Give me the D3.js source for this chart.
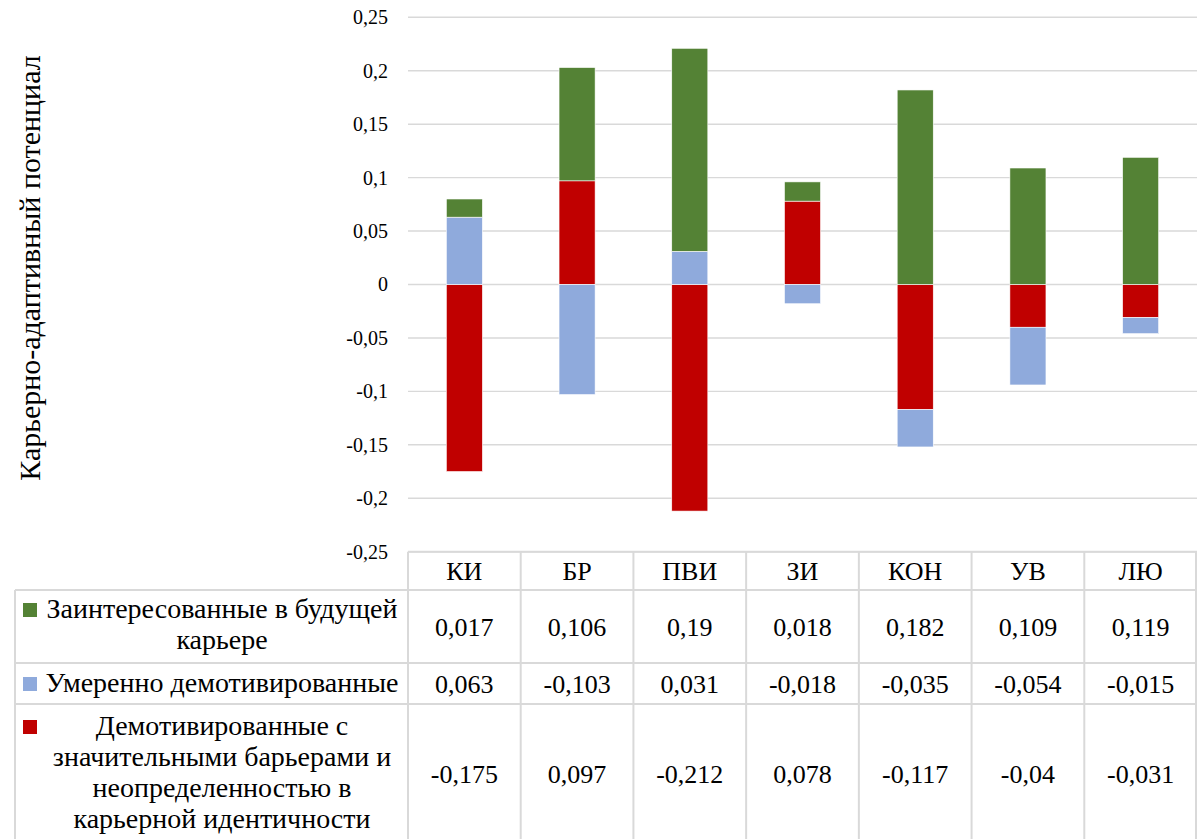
<!DOCTYPE html>
<html>
<head>
<meta charset="utf-8">
<script src="https://cdn.jsdelivr.net/npm/d3@7"></script>
<style>
  body { margin: 0; background: #fff; }
  svg text { font-family: "Liberation Serif", "Times New Roman", serif; }
</style>
</head>
<body>
<div></div>
<script>
const width = 1198, height = 839
const svg = d3.select("div")
    .append("svg")
    .attr("xmlns", "http://www.w3.org/2000/svg")
    .attr("width", width)
    .attr("height", height)

// data
const categories = ["КИ", "БР", "ПВИ", "ЗИ", "КОН", "УВ", "ЛЮ"]
const interested = [0.017, 0.106, 0.19, 0.018, 0.182, 0.109, 0.119]
const moderate = [0.063, -0.103, 0.031, -0.018, -0.035, -0.054, -0.015]
const demotivated = [-0.175, 0.097, -0.212, 0.078, -0.117, -0.04, -0.031]
const seriesNames = [
	["Заинтересованные в будущей", "карьере"],
	["Умеренно демотивированные"],
	["Демотивированные с", "значительными барьерами и", "неопределенностью в", "карьерной идентичности"]
]
const yTitle = "Карьерно-адаптивный потенциал"

// settings
const colors = { interested: "#548235", moderate: "#8faadc", demotivated: "#c00000" }
const gridColor = "#d9d9d9"
const plotLeft = 408, plotRight = 1197, plotTop = 17.3, plotBottom = 551.7

const locale = d3.formatLocale({ decimal: ",", thousands: " ", grouping: [3], currency: ["", ""], minus: "-" })
const tickFmt = locale.format(".2~f")
const valFmt = locale.format("~g")

// scales
const y = d3.scaleLinear().domain([-0.25, 0.25]).range([plotBottom, plotTop])
const xCol = d3.scaleBand().domain(categories).range([plotLeft, plotRight])
const xBar = d3.scaleBand().domain(categories).range([plotLeft, plotRight])
	.paddingInner(0.68).paddingOuter(0.34)

// 1. gridlines + tick labels
const ticks = d3.ticks(-0.25, 0.25, 10)
svg.selectAll().data(ticks).enter().append("line")
	.attr("x1", plotLeft).attr("x2", plotRight)
	.attr("y1", d => y(d)).attr("y2", d => y(d))
	.attr("stroke", gridColor)
	.attr("stroke-width", 1.4)

const yAxis = svg.append("g")
	.attr("transform", `translate(${plotLeft},0)`)
	.call(d3.axisLeft(y).tickValues(ticks).tickFormat(tickFmt).tickSize(0).tickPadding(20))
yAxis.attr("font-family", null).attr("font-size", null)
yAxis.select(".domain").remove()
yAxis.selectAll("text")
	.style("font-size", "20px")
	.attr("fill", "#000")

// y title
svg.append("text")
	.attr("transform", "translate(40,268) rotate(-90)")
	.attr("text-anchor", "middle")
	.style("font-size", "30px")
	.attr("fill", "#000")
	.text(yTitle)

// 2. stacked bars (stack order: demotivated, moderate, interested)
const rows = categories.map((c, i) => ({
	cat: c,
	demotivated: demotivated[i],
	moderate: moderate[i],
	interested: interested[i]
}))
const keys = ["demotivated", "moderate", "interested"]
const stacked = d3.stack().keys(keys).offset(d3.stackOffsetDiverging)(rows)

svg.selectAll().data(stacked).enter().append("g")
	.attr("fill", d => colors[d.key])
	.selectAll("rect")
	.data(d => d)
	.enter()
	.append("rect")
	.attr("x", d => xBar(d.data.cat))
	.attr("width", xBar.bandwidth())
	.attr("y", d => y(Math.max(d[0], d[1])))
	.attr("height", d => Math.abs(y(d[0]) - y(d[1])))
	.attr("stroke", "#fff")
	.attr("stroke-width", 0.6)

// 3. data table
const tableLeft = 15
const rowEdges = [plotBottom, 590, 663, 704, 842]
const tableSeries = [
	{ key: "interested", values: interested, names: seriesNames[0] },
	{ key: "moderate", values: moderate, names: seriesNames[1] },
	{ key: "demotivated", values: demotivated, names: seriesNames[2] }
]
const borderColor = "#d9d9d9"
const tb = svg.append("g")
	.attr("stroke", borderColor)
	.attr("stroke-width", 2)
// horizontal lines
tb.append("line").attr("x1", plotLeft).attr("x2", plotRight).attr("y1", rowEdges[0]).attr("y2", rowEdges[0])
tb.selectAll().data(rowEdges.slice(1, 4)).enter().append("line")
	.attr("x1", tableLeft).attr("x2", plotRight)
	.attr("y1", d => d).attr("y2", d => d)
// vertical lines
const colEdges = categories.map(c => xCol(c)).concat([plotRight - 1])
tb.selectAll().data(colEdges).enter().append("line")
	.attr("x1", d => d).attr("x2", d => d)
	.attr("y1", rowEdges[0]).attr("y2", height)
tb.append("line").attr("x1", tableLeft).attr("x2", tableLeft).attr("y1", rowEdges[1]).attr("y2", height)

// header labels
svg.selectAll().data(categories).enter().append("text")
	.attr("x", d => xCol(d) + xCol.bandwidth() / 2)
	.attr("y", 580)
	.attr("text-anchor", "middle")
	.style("font-size", "26px")
	.attr("fill", "#000")
	.text(d => d)

// values
tableSeries.forEach((s, r) => {
	const mid = (rowEdges[r + 1] + rowEdges[r + 2]) / 2
	svg.selectAll().data(s.values).enter().append("text")
		.attr("x", (d, i) => xCol(categories[i]) + xCol.bandwidth() / 2)
		.attr("y", mid + 9.5)
		.attr("text-anchor", "middle")
		.style("font-size", "26px")
		.attr("fill", "#000")
		.text(d => valFmt(d))

	// legend key + name
	const firstBase = [618, 692, 735][r]
	svg.append("rect")
		.attr("x", 23).attr("y", firstBase - 15)
		.attr("width", 14).attr("height", 14)
		.attr("fill", colors[s.key])
	svg.selectAll().data(s.names).enter().append("text")
		.attr("x", 222)
		.attr("y", (d, i) => firstBase + i * 31)
		.attr("text-anchor", "middle")
		.style("font-size", "28px")
		.attr("fill", "#000")
		.text(d => d)
})
</script>
</body>
</html>
